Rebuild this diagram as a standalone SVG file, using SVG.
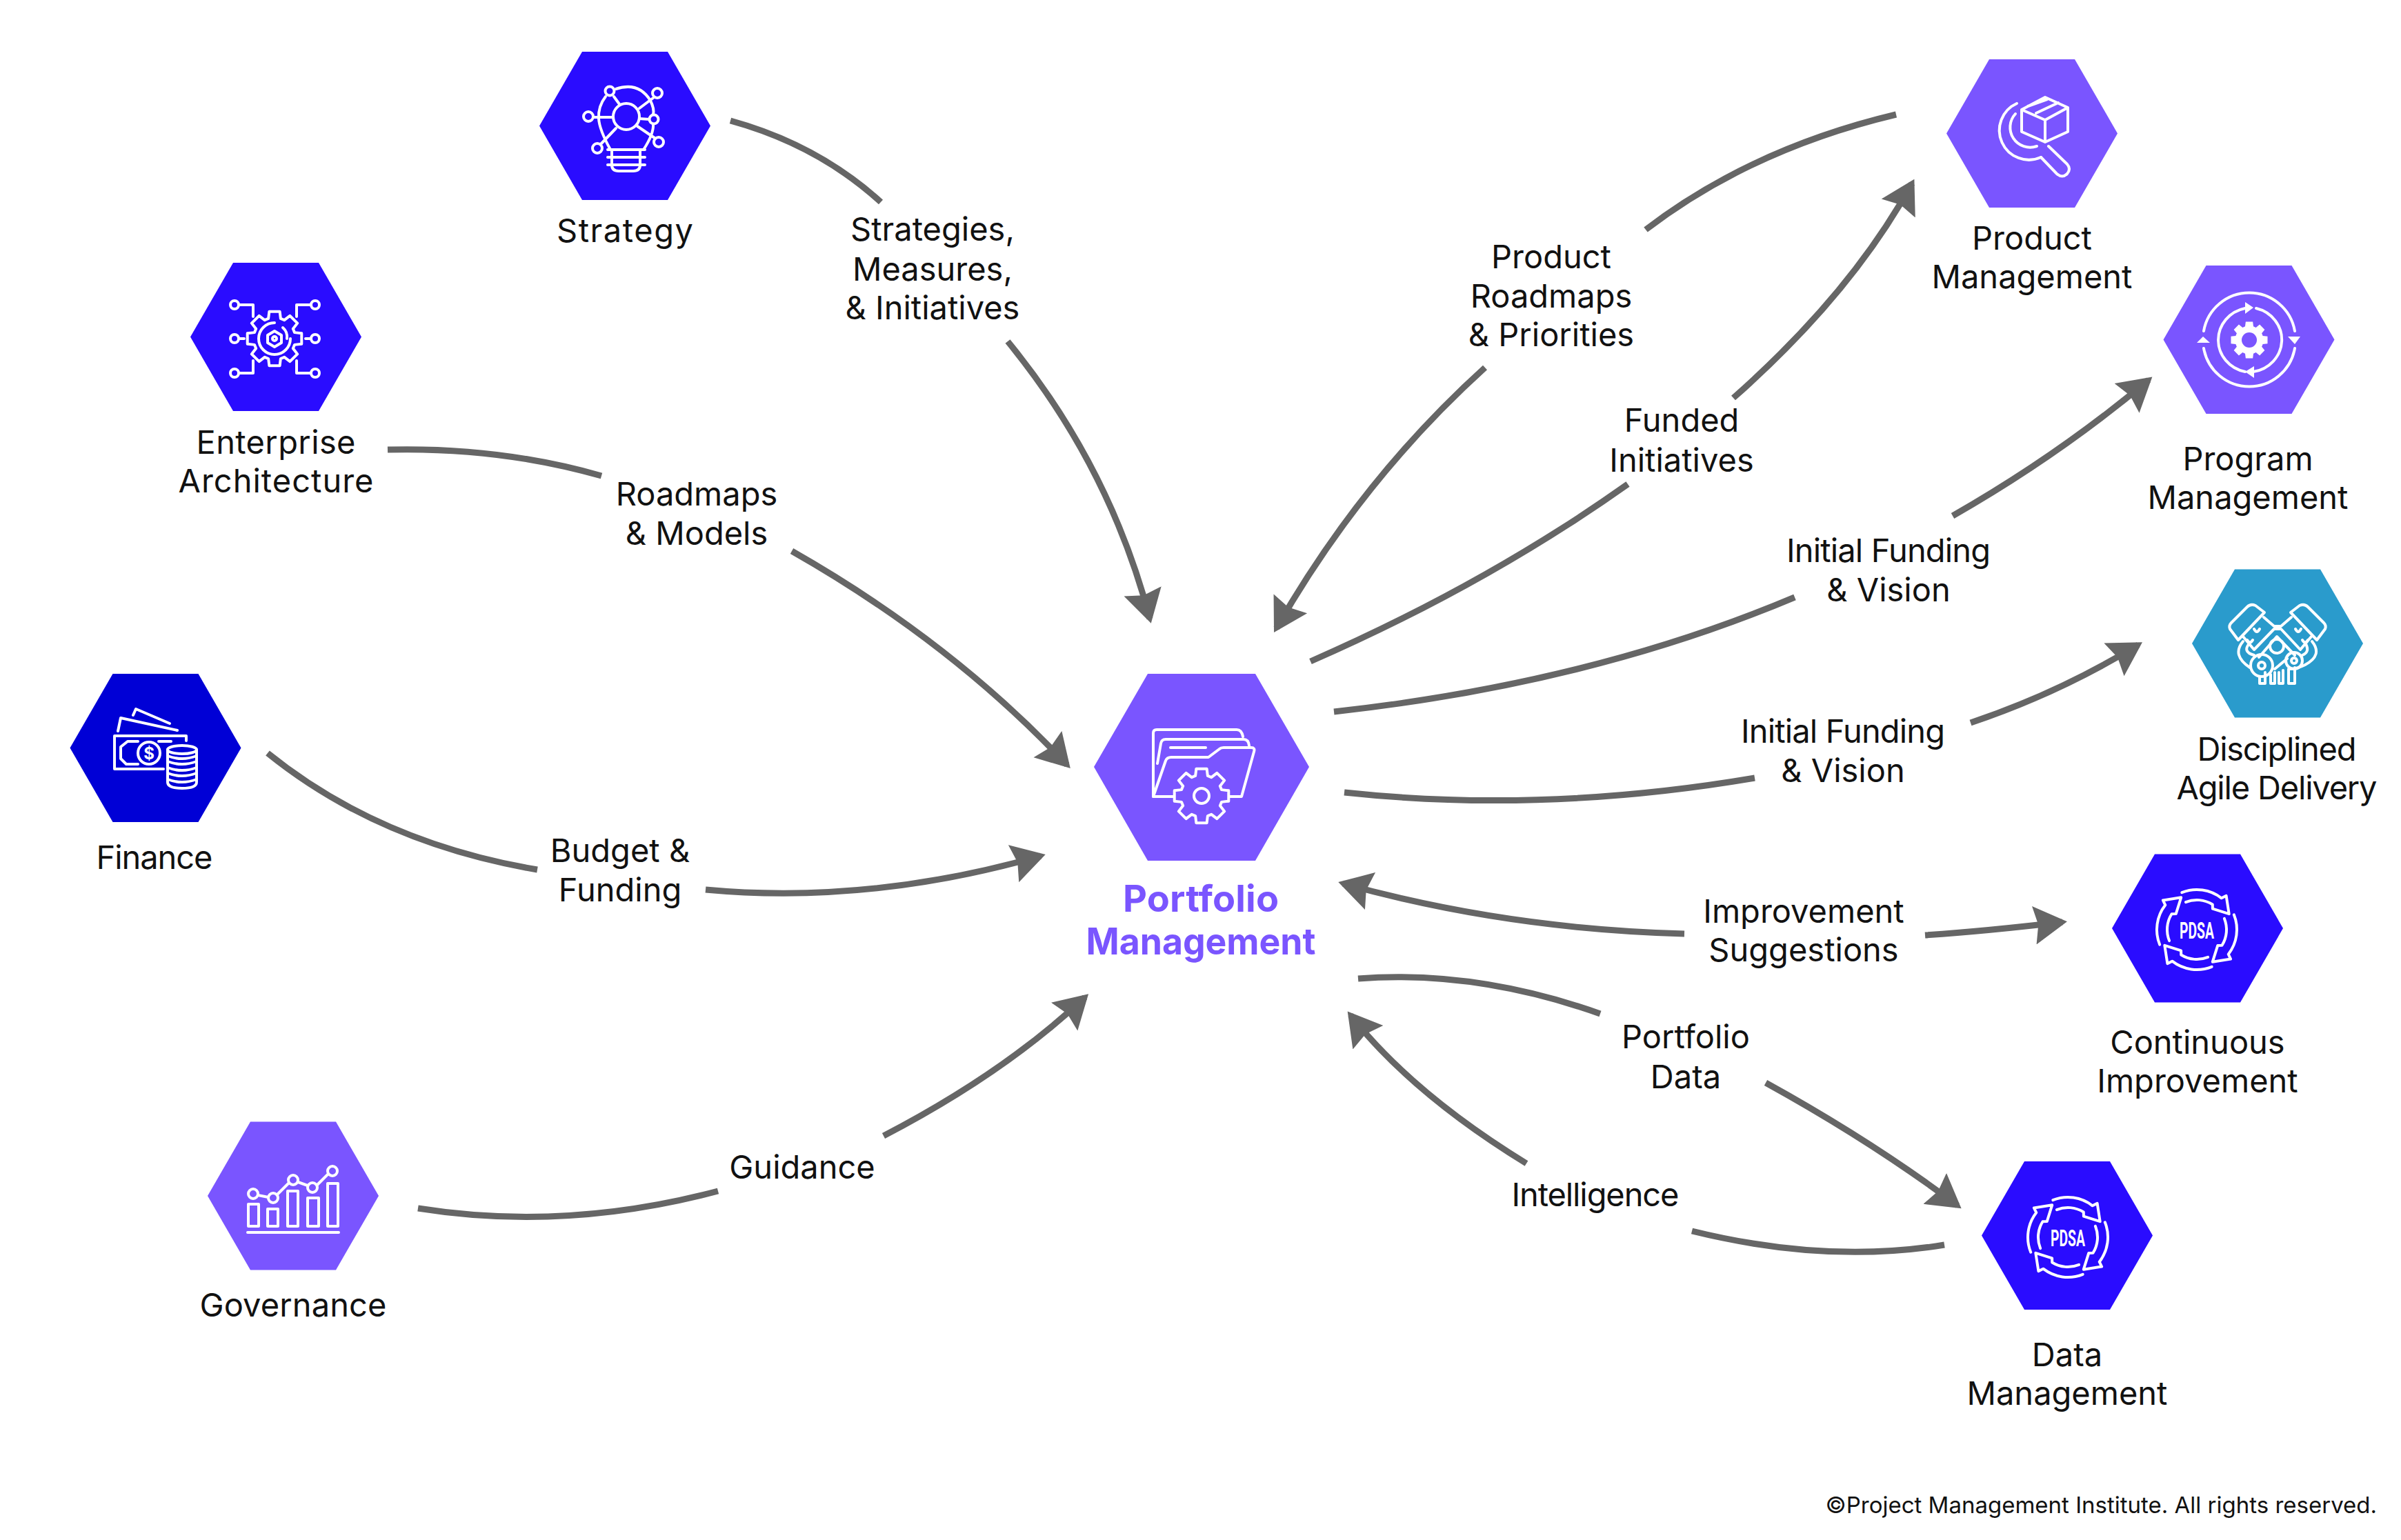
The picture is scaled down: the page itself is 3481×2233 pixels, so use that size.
<svg xmlns="http://www.w3.org/2000/svg" width="3481" height="2233" viewBox="0 0 3481 2233">
<style>
text{font-family:Inter,"Liberation Sans",sans-serif;font-size:47px;fill:#111;text-anchor:middle}
.hero{font-size:54px;font-weight:700;fill:#7a55ff}
.copy{font-size:33px;text-anchor:end}
.ic{fill:none;stroke:#fff;stroke-width:4;stroke-linecap:round;stroke-linejoin:round}
.wf{fill:#fff;stroke:none}
.blue{fill:#2a0cff}.purple{fill:#7a55ff}.teal{fill:#2a9bcc}.navy{fill:#0000d6}
.c{fill:none;stroke:#666;stroke-width:9}
.a{marker-end:url(#head)}
.pd{font-family:Roboto,"Liberation Sans",sans-serif;font-size:33px;font-weight:700;fill:#fff}
</style>
<defs>
<marker id="head" markerUnits="userSpaceOnUse" viewBox="0 -29 49 58" markerWidth="49" markerHeight="58" refX="41" refY="0" orient="auto"><polygon points="0,-28 48,0 0,28 6,0" fill="#666"/></marker>
<polygon id="hex" points="-124,0 -62,-107.500 62,-107.500 124,0 62,107.500 -62,107.500"/>
<polygon id="gear" vector-effect="non-scaling-stroke" points="72.700,-22.200 98.200,-19.100 98.200,19.100 72.700,22.200 67.100,35.700 82.900,55.900 55.900,82.900 35.700,67.100 22.200,72.700 19.100,98.200 -19.100,98.200 -22.200,72.700 -35.700,67.100 -55.900,82.900 -82.900,55.900 -67.100,35.700 -72.700,22.200 -98.200,19.100 -98.200,-19.100 -72.700,-22.200 -67.100,-35.700 -82.900,-55.900 -55.900,-82.900 -35.700,-67.100 -22.200,-72.700 -19.100,-98.200 19.100,-98.200 22.200,-72.700 35.700,-67.100 55.900,-82.900 82.900,-55.900 67.100,-35.700"/>
<path id="seg" d="M-21.700,-53.800A58,58 0 0 1 35.700,-45.700L42.600,-49.100L46.700,-22.800L22.900,-30.300L22.800,-36.500A43,43 0 0 0 -16.100,-39.900"/>
<g id="pdsa" class="ic">
<use href="#seg"/><use href="#seg" transform="rotate(90)"/><use href="#seg" transform="rotate(180)"/><use href="#seg" transform="rotate(270)"/>
</g>
</defs>

<g id="connectors">
<g id="c-strategy"><path class="c" d="M1059,175Q1186,210 1277,293"/><path class="c a" d="M1461,495Q1609,676 1667,897"/></g>
<g id="c-ea"><path class="c" d="M562,652Q725,648 872,690"/><path class="c a" d="M1148,799Q1380,931 1547,1109"/></g>
<g id="c-finance"><path class="c" d="M388,1092Q549,1222 779,1261"/><path class="c a" d="M1023,1290Q1260,1312 1509,1241"/></g>
<g id="c-governance"><path class="c" d="M606,1752Q819,1786 1041,1727"/><path class="c a" d="M1281,1647Q1456,1556 1573,1446"/></g>
<g id="c-product-roadmaps"><path class="c" d="M2749,166Q2539,216 2386,333"/><path class="c a" d="M2153,533Q1974,695 1850.500,911"/></g>
<g id="c-funded"><path class="c" d="M1900,959Q2154,848 2360,702"/><path class="c a" d="M2513,577Q2684,426 2772,266"/></g>
<g id="c-funding-program"><path class="c" d="M1934,1032Q2306,991 2602,866"/><path class="c a" d="M2831,748Q2985,660 3115,551"/></g>
<g id="c-funding-dad"><path class="c" d="M1949,1149Q2238,1180 2544,1128"/><path class="c a" d="M2857,1048Q2985,1005 3100,935"/></g>
<g id="c-improvement"><path class="c a" d="M2442,1354Q2183,1347 1947,1281"/><path class="c a" d="M2791,1356Q2880,1350 2990,1337"/></g>
<g id="c-data"><path class="c" d="M1969,1419Q2140,1406 2320,1470"/><path class="c a" d="M2560,1570Q2714,1655 2838,1748"/></g>
<g id="c-intelligence"><path class="c" d="M2819,1805Q2648,1833 2453,1785"/><path class="c a" d="M2213,1687Q2047,1585 1958,1472"/></g>
</g>

<g id="connector-labels">
<text x="1352" y="349">Strategies,</text><text x="1352" y="407">Measures,</text><text x="1352" y="463">&amp; Initiatives</text>
<text x="1010" y="733">Roadmaps</text><text x="1010" y="790">&amp; Models</text>
<text x="899" y="1250">Budget &amp;</text><text x="899" y="1307">Funding</text>
<text x="1163" y="1709">Guidance</text>
<text x="2249" y="389">Product</text><text x="2249" y="446">Roadmaps</text><text x="2249" y="502">&amp; Priorities</text>
<text x="2438" y="626">Funded</text><text x="2438" y="684">Initiatives</text>
<text x="2738" y="815" textLength="296">Initial Funding</text><text x="2738" y="872">&amp; Vision</text>
<text x="2672" y="1077" textLength="296">Initial Funding</text><text x="2672" y="1134">&amp; Vision</text>
<text x="2615" y="1338">Improvement</text><text x="2615" y="1394">Suggestions</text>
<text x="2444" y="1520">Portfolio</text><text x="2444" y="1578">Data</text>
<text x="2313" y="1749" textLength="243">Intelligence</text>
</g>

<g id="node-strategy">
<use href="#hex" class="blue" x="906" y="182.500"/>
<g class="ic">
<circle cx="908" cy="169" r="19"/><circle cx="884" cy="132" r="6.500"/><circle cx="953" cy="135" r="7"/><circle cx="853" cy="169" r="7"/><circle cx="948" cy="173" r="6.500"/><circle cx="955" cy="206" r="7"/><circle cx="866" cy="215" r="7"/>
<path d="M878,140Q867,154 868,172Q869,188 885,217M893,129Q926,118 943,146Q949,158 947,166M947,180Q948,194 933,217"/>
<path d="M890,140L898,151M927,157L947,142M860,170H888M927,172L941,173M924,183L949,200M893,186L871,209"/>
<path d="M881,217H935M881,228H935M881,239H935M887,217V239Q887,248 897,248H918Q928,248 928,239V217"/>
</g>
<text x="906" y="351" textLength="198">Strategy</text>
</g>

<g id="node-enterprise-architecture">
<use href="#hex" class="blue" x="400" y="488.500"/>
<g class="ic" stroke-width="4">
<circle cx="340" cy="442" r="6"/><circle cx="457" cy="442" r="6"/><circle cx="340" cy="491" r="6"/><circle cx="457" cy="491" r="6"/><circle cx="340" cy="541" r="6"/><circle cx="457" cy="541" r="6"/>
<path d="M346,442H367V459M451,442H430V459M346,491H354M443,491H451M346,541H367V523M451,541H430V523"/>
<use href="#gear" transform="translate(398,491) scale(.4)"/>
<path d="M398,468A23,23 0 1 0 421,491"/><path d="M410,475A18,18 0 0 1 416,491"/>
<polygon points="398,480 408,486 408,497 398,503 388,497 388,486"/><circle cx="398" cy="491" r="3"/>
</g>
<text x="400" y="658" textLength="231">Enterprise</text><text x="400" y="714" textLength="283">Architecture</text>
</g>

<g id="node-finance">
<use href="#hex" class="navy" x="225.500" y="1084.500"/>
<g class="ic">
<path d="M193,1037L197,1028L246,1049M171,1060L175,1041L257,1059M270,1074V1067H166V1115H237"/>
<path d="M200,1075H185L175,1083V1100L183,1108H200M230,1075H248"/>
<circle cx="216" cy="1092" r="16"/>
<path d="M243,1087V1134Q243,1143 264,1143Q285,1143 285,1134V1087"/><ellipse cx="264" cy="1087" rx="21" ry="6"/>
<path d="M243,1096Q264,1104 285,1096M243,1104Q264,1112 285,1104M243,1113Q264,1121 285,1113M243,1121Q264,1129 285,1121M243,1130Q264,1138 285,1130"/>
</g>
<text x="216" y="1101" style="font-size:24px;font-weight:700;fill:#fff">$</text>
<text x="224" y="1260" textLength="169">Finance</text>
</g>

<g id="node-governance">
<use href="#hex" class="purple" x="425" y="1734"/>
<g class="ic">
<rect x="360" y="1746" width="15" height="32"/><rect x="388" y="1753" width="15" height="25"/><rect x="417" y="1727" width="15" height="51"/><rect x="446" y="1737" width="16" height="41"/><rect x="475" y="1716" width="15" height="62"/>
<path d="M359,1787H491M374,1733L389,1736M402,1732L418,1716M432,1714L446,1719M460,1718L475,1703"/>
<circle cx="367" cy="1731" r="7"/><circle cx="396" cy="1737" r="7"/><circle cx="425" cy="1711" r="7"/><circle cx="453" cy="1722" r="7"/><circle cx="482" cy="1698" r="7"/>
</g>
<text x="425" y="1909" textLength="271">Governance</text>
</g>

<g id="node-portfolio-management">
<polygon class="purple" points="1586,1112 1664,977 1820,977 1898,1112 1820,1248 1664,1248"/>
<g class="ic">
<path d="M1672,1155V1063Q1672,1058 1677,1058H1793Q1800,1058 1802,1068"/>
<path d="M1678,1107L1683,1078Q1684,1072 1690,1072H1803Q1810,1072 1811,1081"/>
<path d="M1697,1084H1748"/>
<path d="M1702,1155H1672L1690,1103Q1692,1098 1698,1098H1752L1768,1086Q1770,1084 1774,1084H1814Q1820,1084 1818,1090L1800,1155H1783"/>
<use href="#gear" transform="translate(1742,1154) scale(.4)" style="fill:#7a55ff"/>
<circle cx="1742" cy="1154" r="11"/>
</g>
<text class="hero" x="1741" y="1322" textLength="226">Portfolio</text><text class="hero" x="1741" y="1384" textLength="333" lengthAdjust="spacingAndGlyphs">Management</text>
</g>

<g id="node-product-management">
<use href="#hex" class="purple" x="2946" y="193.500"/>
<g class="ic">
<path d="M2965,141L2998,156V191L2965,206L2931,191V159ZM2931,159L2965,174L2998,156M2965,174V206M2952,164L2984,149M2940,154L2968,144"/>
<path d="M2924,150A42,42 0 1 0 2959,228M2922,165A29,29 0 0 0 2953,212"/>
<path d="M2959,228L2982,252Q2990,259 2997,252Q3003,245 2997,238L2970,212"/>
</g>
<text x="2946" y="362">Product</text><text x="2946" y="418">Management</text>
</g>

<g id="node-program-management">
<use href="#hex" class="purple" x="3260.500" y="492.500"/>
<g class="ic">
<path d="M3195,480A67,67 0 0 1 3327,480M3327,505A67,67 0 0 1 3195,505"/>
<path d="M3255,447A49,47 0 0 0 3255,539M3271,447A49,47 0 0 1 3267,539"/>
</g>
<polygon class="wf" points="3317,488 3335,488 3327,499"/><polygon class="wf" points="3185,497 3204,497 3194,488"/>
<polygon class="wf" points="3255,438 3255,455 3267,446"/><polygon class="wf" points="3268,531 3268,548 3255,539"/>
<use href="#gear" transform="translate(3261,493) scale(.27)" fill="#fff"/>
<circle cx="3261" cy="493" r="11" fill="#7a55ff"/>
<text x="3259" y="682">Program</text><text x="3259" y="738">Management</text>
</g>

<g id="node-disciplined-agile-delivery">
<use href="#hex" class="teal" x="3302" y="933"/>
<g class="ic" id="engine-left">
<path d="M3283,888L3245,928L3233,912Q3231,907 3235,903L3258,880Q3263,875 3270,878Z"/>
<path d="M3282,895L3297,908H3307L3322,895M3252,923L3268,942L3297,912H3307L3335,942L3351,923"/>
<path d="M3275,953L3301,923L3327,950M3258,928Q3262,935 3266,928M3268,912Q3272,920 3276,912"/>
<circle cx="3301" cy="937" r="10"/><circle cx="3279" cy="965" r="16"/><circle cx="3279" cy="965" r="5"/><circle cx="3326" cy="958" r="12"/><circle cx="3326" cy="958" r="4"/>
<path d="M3252,930Q3235,950 3262,968M3262,932Q3250,945 3268,950M3352,930Q3368,950 3342,964Q3330,970 3320,970M3342,932Q3350,945 3338,950M3298,970L3316,955"/>
<path d="M3276,982V991H3284V975M3292,978V991H3298V975M3304,975V991H3310V972M3318,970V991H3327V968"/>
<path d="M3321,888L3359,928L3371,912Q3373,907 3369,903L3346,880Q3341,875 3334,878Z"/>
<path d="M3346,928Q3342,935 3338,928M3336,912Q3332,920 3328,912"/>
</g>
<text x="3301" y="1103" textLength="231">Disciplined</text><text x="3301" y="1159" textLength="291">Agile Delivery</text>
</g>

<g id="node-continuous-improvement">
<use href="#hex" class="blue" x="3186" y="1346"/>
<use href="#pdsa" x="3185" y="1348"/>
<text class="pd" x="3185" y="1361" textLength="50" lengthAdjust="spacingAndGlyphs">PDSA</text>
<text x="3186" y="1528">Continuous</text><text x="3186" y="1584">Improvement</text>
</g>

<g id="node-data-management">
<use href="#hex" class="blue" x="2997" y="1791.500"/>
<use href="#pdsa" x="2998" y="1794"/>
<text class="pd" x="2998" y="1807" textLength="50" lengthAdjust="spacingAndGlyphs">PDSA</text>
<text x="2997" y="1981">Data</text><text x="2997" y="2037">Management</text>
</g>

<text class="copy" x="3446" y="2194">©Project Management Institute. All rights reserved.</text>
</svg>
